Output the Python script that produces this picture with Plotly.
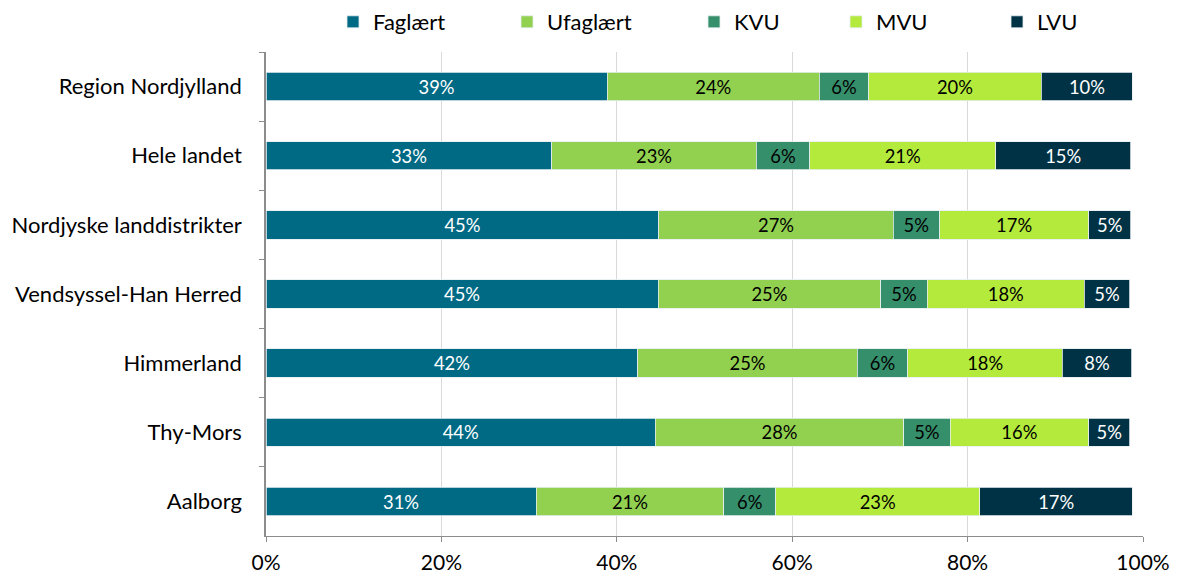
import plotly.graph_objects as go

# Andel af beskæftigede efter uddannelsesniveau
categories = [
    "Region Nordjylland", "Hele landet", "Nordjyske landdistrikter",
    "Vendsyssel-Han Herred", "Himmerland", "Thy-Mors", "Aalborg",
]
faglaert = [38.9, 32.6, 44.8, 44.7, 42.4, 44.4, 30.8]
ufaglaert = [24.2, 23.3, 26.7, 25.4, 25.0, 28.3, 21.4]
kvu = [5.6, 6.1, 5.3, 5.3, 5.8, 5.3, 5.9]
mvu = [19.7, 21.2, 17.0, 17.9, 17.6, 15.8, 23.3]
lvu = [10.4, 15.4, 4.8, 5.2, 7.9, 4.7, 17.4]

x_ticks = [0, 20, 40, 60, 80, 100]
x_tick_labels = ["0%", "20%", "40%", "60%", "80%", "100%"]

SERIES = [
    ("Faglært", faglaert, "#006a85", "white"),
    ("Ufaglært", ufaglaert, "#92d050", "black"),
    ("KVU", kvu, "#368f6b", "black"),
    ("MVU", mvu, "#b4ea3c", "black"),
    ("LVU", lvu, "#003246", "white"),
]
# legend-placering (px fra venstre kant af figuren) - Excel-agtig uens afstand
LEGEND_X = [325, 499, 686, 828, 989]
FONT = "Lato, 'Open Sans', sans-serif"
W, H = 1170, 568  # siden har 8px body-margin

fig = go.Figure()
legends = {}
for i, (name, values, color, text_color) in enumerate(SERIES):
    key = "legend" if i == 0 else f"legend{i + 1}"
    fig.add_trace(go.Bar(
        y=categories, x=values, name=name, orientation="h", legend=key,
        marker=dict(color=color, line=dict(color="#e6eef0", width=0.8)),
        text=[f"{v:.0f}%" for v in values],
        textposition="inside", insidetextanchor="middle", textangle=0,
        textfont=dict(color=text_color, size=23, family=FONT),
        hovertemplate="%{y}: %{x:.1f}%<extra>" + name + "</extra>",
    ))
    legends[key] = dict(
        orientation="h", xref="container", x=LEGEND_X[i] / W, xanchor="left",
        yref="container", y=(H - 14) / H, yanchor="middle",
        font=dict(size=22, family=FONT), itemwidth=30,
    )

fig.update_layout(
    barmode="stack", bargap=0.59,
    width=W, height=H,
    margin=dict(l=258, r=35, t=44, b=40, autoexpand=False),
    plot_bgcolor="white", paper_bgcolor="white",
    font=dict(family=FONT, size=22, color="#000000"),
    showlegend=True,
    **legends,
)
fig.update_xaxes(
    range=[0, 100], tickvals=x_ticks, ticktext=x_tick_labels,
    tickfont=dict(size=21),
    showgrid=True, gridcolor="#d9d9d9", gridwidth=1,
    showline=True, linecolor="#8c8c8c", linewidth=1,
    ticks="outside", ticklen=5, tickcolor="#8c8c8c",
    zeroline=False, ticklabelstandoff=3,
)
fig.update_yaxes(
    categoryorder="array", categoryarray=categories, autorange="reversed",
    showline=True, linecolor="#8c8c8c", linewidth=1.5,
    ticks="outside", tickson="boundaries", ticklen=5, tickcolor="#8c8c8c",
    showgrid=False, ticklabelstandoff=18,
)

fig.write_html("out.html")
